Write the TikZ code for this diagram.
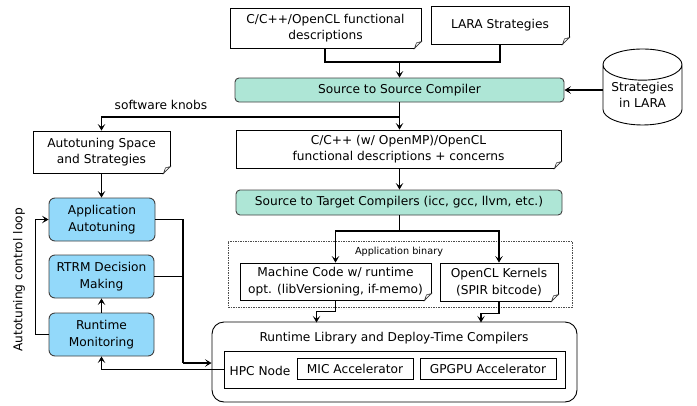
\documentclass[tikz,border=0pt]{standalone}
\usepackage{fontspec}
\setmainfont{DejaVu Sans}
\usetikzlibrary{arrows.meta,calc,shapes.geometric}
\definecolor{teal}{RGB}{174,230,214}
\definecolor{sky}{RGB}{147,217,250}
\tikzset{
  x=1pt,y=-1pt,
  every node/.style={font=\fontsize{12.2}{16.5}\selectfont,inner sep=0pt,align=center},
  notebox/.style={draw=black,line width=0.9pt,fill=white},
  greenbox/.style={draw=black!75,line width=0.9pt,fill=teal,rounded corners=4pt},
  bluebox/.style={draw=black!75,line width=0.9pt,fill=sky,rounded corners=6pt},
  plainbox/.style={draw=black,line width=0.8pt,fill=white},
  conn/.style={line width=1.5pt,black},
  arr/.style={conn,-{Stealth[length=6.5pt,width=7.5pt,inset=3pt]}},
  foldline/.style={line width=0.6pt,black!80},
}
\newcommand{\foldcorner}[1]{%
  \fill[white] ($(#1.south east)+(-7,0.8)$) -- ($(#1.south east)+(0.8,0.8)$) -- ($(#1.south east)+(0.8,-7)$) -- cycle;
  \draw[foldline] ($(#1.south east)+(-7,0)$) -- ($(#1.south east)+(0,-7)$) -- ($(#1.south east)+(-5,-5.5)$) -- cycle;
}
\begin{document}
\begin{tikzpicture}
\useasboundingbox (0,0) rectangle (697,405);
% top sources
\node[notebox,minimum width=191,minimum height=40] (cfunc) at (325.5,28) {C/C++/OpenCL functional\\descriptions};
\node[notebox,minimum width=138,minimum height=38] (lara) at (500,25) {LARA Strategies};
\foldcorner{cfunc}\foldcorner{lara}
\node[greenbox,minimum width=329,minimum height=24] (s2s) at (399.5,90) {Source to Source Compiler};
% cylinder
\node[cylinder,shape border rotate=90,aspect=0.5,draw=black,line width=0.9pt,fill=white,minimum width=79,minimum height=76] (cyl) at (642.5,95) {Strategies\\in LARA};
\node[notebox,minimum width=325,minimum height=38] (omp) at (398.5,149) {C/C++ (w/ OpenMP)/OpenCL\\functional descriptions + concerns};
\foldcorner{omp}
\node[greenbox,minimum width=326,minimum height=25] (s2t) at (399,202.5) {Source to Target Compilers (icc, gcc, llvm, etc.)};
% application binary
\node[draw=black!70,dash pattern=on 1.5pt off 1pt,line width=0.7pt,minimum width=344,minimum height=66] (bin) at (400,274) {};
\node[font=\fontsize{9.7}{11}\selectfont] (binl) at (399,251.5) {Application binary};
\node[notebox,minimum width=191,minimum height=37] (mach) at (335.5,281.5) {Machine Code w/ runtime\\opt. (libVersioning, if-memo)};
\node[notebox,minimum width=118,minimum height=38] (ocl) at (499,282) {OpenCL Kernels\\(SPIR bitcode)};
\foldcorner{mach}\foldcorner{ocl}
% runtime
\node[draw=black,line width=0.9pt,rounded corners=12pt,fill=white,minimum width=365,minimum height=80] (rt) at (394.5,362) {};
\node (rtl) at (394,338) {Runtime Library and Deploy-Time Compilers};
\node[plainbox,minimum width=341,minimum height=37] (hpc) at (394.5,369.5) {};
\node (hpcl) at (260,371) {HPC Node};
\node[plainbox,minimum width=116,minimum height=21] (mic) at (355,368.5) {MIC Accelerator};
\node[plainbox,minimum width=136,minimum height=21] (gpu) at (488,368.5) {GPGPU Accelerator};
% left column
\node[notebox,minimum width=137,minimum height=42] (space) at (101.5,152) {Autotuning Space\\and Strategies};
\foldcorner{space}
\node[bluebox,minimum width=106,minimum height=43] (app) at (102,219.5) {Application\\Autotuning};
\node[bluebox,minimum width=105,minimum height=43] (rtrm) at (101.5,276.5) {RTRM Decision\\Making};
\node[bluebox,minimum width=105,minimum height=43] (mon) at (101.5,334.5) {Runtime\\Monitoring};
\node (knobs) at (161,105) {software knobs};
\node[rotate=90] (loop) at (19,280) {Autotuning control loop};
% junction coordinates
\coordinate (j1) at (399.5,62);
\coordinate (j2) at (399.5,117);
\coordinate (j3) at (399.5,231);
\coordinate (j4) at (183,363);
% connectors
\draw[conn] (cfunc.south -| 325,0) |- (j1);
\draw[conn] (lara.south) |- (j1);
\draw[arr] (j1) -- (s2s.north -| j1);
\draw[arr] (s2s.south -| j1) -- (omp.north -| j1);
\draw[arr] (j2) -| (space.north);
\draw[arr] (omp.south -| j1) -- (s2t.north -| j1);
\draw[conn] (s2t.south -| j1) -- (j3);
\draw[arr] (j3) -| (mach.north);
\draw[arr] (j3) -| (ocl.north);
\draw[arr] (mach.south) |- ++(-19,11) -- ++(0,11);
\draw[arr] (ocl.south) |- ++(-18,12) -- ++(0,9);
\draw[arr] (s2s.east -| cyl.west) -- (s2s.east);
\draw[arr] (space.south) -- (app.north -| space.south);
\draw[arr] (mon.north) -- (rtrm.south);
\draw[conn] (app.east) -| (j4);
\draw[conn] (rtrm.east) -- (rtrm.east -| j4);
\draw[arr] (j4) -- (j4 -| rt.west);
\draw[arr] (mon.west) -- ++(-13,0) |- (app.west);
\draw[arr] (hpc.west) -| (mon.south);
\end{tikzpicture}
\end{document}
